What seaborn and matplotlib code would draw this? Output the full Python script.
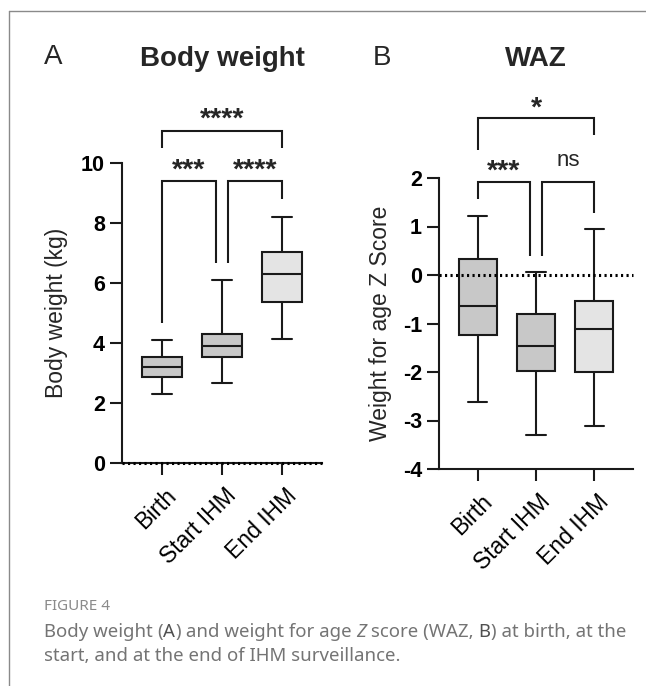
import matplotlib
matplotlib.use("Agg")
import matplotlib.pyplot as plt
import matplotlib.transforms as mtransforms
import seaborn as sns
import pandas as pd
from matplotlib.lines import Line2D

# ---------------- data ----------------
categories = ["Birth", "Start IHM", "End IHM"]

bw_min = [2.29, 2.68, 4.12]
bw_q1 = [2.88, 3.52, 5.38]
bw_med = [3.21, 3.91, 6.29]
bw_q3 = [3.54, 4.30, 7.03]
bw_max = [4.10, 6.10, 8.20]

waz_min = [-2.62, -3.30, -3.11]
waz_q1 = [-1.24, -1.98, -2.01]
waz_med = [-0.64, -1.46, -1.12]
waz_q3 = [0.32, -0.81, -0.53]
waz_max = [1.22, 0.06, 0.95]

bw_ticks = [0, 2, 4, 6, 8, 10]
waz_ticks = [-4, -3, -2, -1, 0, 1, 2]

box_colors = ["#c8c8c8", "#c8c8c8", "#e4e4e4"]

# significance brackets: (x_left, x_right, y_top, y_left_end, y_right_end, label, label_y)
brackets_bw = [
    (0.0, 2.0, 11.07, 10.5, 10.5, "****", 11.43),
    (0.0, 0.9, 9.4, 4.67, 6.67, "***", 9.76),
    (1.1, 2.0, 9.4, 6.67, 8.8, "****", 9.76),
]
brackets_waz = [
    (0.0, 2.0, 3.24, 2.58, 2.89, "*", 3.44),
    (0.0, 0.9, 1.92, 1.57, 0.39, "***", 2.14),
    (1.1, 2.0, 1.92, 0.39, 1.28, "ns", 2.36),
]


def five_number_frame(mins, q1s, meds, q3s, maxs):
    rows = []
    for c, a, b, m, d, e in zip(categories, mins, q1s, meds, q3s, maxs):
        for v in (a, b, m, d, e):
            rows.append({"group": c, "value": v})
    return pd.DataFrame(rows)


sns.set_theme(style="ticks")
plt.rcParams["font.family"] = ["Liberation Sans", "DejaVu Sans"]
plt.rcParams["axes.linewidth"] = 1.5

W, H = 646, 686
fig = plt.figure(figsize=(W / 100, H / 100), dpi=100)


def px_axes(x0, x1, y0, y1):
    return fig.add_axes([x0 / W, 1 - y1 / H, (x1 - x0) / W, (y1 - y0) / H])


axA = px_axes(122, 322, 163, 463)
axB = px_axes(439, 633, 178, 469)

palette = dict(zip(categories, box_colors))
shift = mtransforms.ScaledTranslation(3 / 100, 0, fig.dpi_scale_trans)


def draw_panel(ax, df, ticks, ylim, ylabel, title, title_y, brackets):
    sns.boxplot(data=df, x="group", y="value", order=categories, hue="group",
                hue_order=categories, palette=palette, whis=(0, 100), width=0.66,
                linewidth=1.5, linecolor="#1a1a1a", showfliers=False, legend=False,
                saturation=1, ax=ax)
    ax.set_xlim(-0.667, 2.667)
    ax.set_ylim(*ylim)
    ax.set_yticks(ticks)
    ax.set_yticklabels([str(t) for t in ticks], fontweight="bold", fontsize=15.5)
    ax.set_xlabel("")
    ax.set_ylabel(ylabel, fontsize=16.5)
    ax.yaxis.label.set_verticalalignment("center")
    ax.tick_params(axis="both", length=8.7, width=1.5, color="#1a1a1a", labelcolor="black")
    ax.tick_params(axis="y", pad=3.5)
    ax.tick_params(axis="x", pad=6.5)
    ax.set_xticks(range(len(categories)))
    ax.set_xticklabels(categories, rotation=45, ha="right", va="top",
                       rotation_mode="anchor", fontsize=16.5)
    for lab in ax.get_xticklabels():
        lab.set_transform(lab.get_transform() + shift)
    for s in ("top", "right"):
        ax.spines[s].set_visible(False)
    for s in ("left", "bottom"):
        ax.spines[s].set_color("#1a1a1a")
    ax.set_facecolor("none")
    ax.axhline(0, color="black", ls=(0, (0.7, 1.1)), lw=2.2, zorder=5, clip_on=False)
    ax.set_title(title, fontsize=20, fontweight="bold", y=title_y, va="center", pad=0)
    for xl, xr, yt, yl, yr, lab, ly in brackets:
        ax.plot([xl, xl, xr, xr], [yl, yt, yt, yr], color="#1a1a1a", lw=1.5,
                clip_on=False, solid_capstyle="butt", solid_joinstyle="miter")
        if lab == "ns":
            ax.text((xl + xr) / 2, ly, lab, ha="center", va="center", fontsize=16,
                    clip_on=False)
        else:
            ax.text((xl + xr) / 2, ly, lab, ha="center", va="center", fontsize=20.5,
                    fontweight="bold", clip_on=False)


dfA = five_number_frame(bw_min, bw_q1, bw_med, bw_q3, bw_max)
dfB = five_number_frame(waz_min, waz_q1, waz_med, waz_q3, waz_max)

draw_panel(axA, dfA, bw_ticks, (0, 10), "Body weight (kg)", "Body weight",
           (463 - 59.5) / 300, brackets_bw)
draw_panel(axB, dfB, waz_ticks, (-4, 2), "Weight for age Z Score", "WAZ",
           (469 - 59) / 291, brackets_waz)

axA.yaxis.set_label_coords((57 - 122) / 200, 0.5)
axB.yaxis.set_label_coords((380 - 439) / 194, 0.5)

# panel letters
fig.text(53 / W, 1 - 57 / H, "A", fontsize=20, ha="center", va="center")
fig.text(382 / W, 1 - 58 / H, "B", fontsize=20, ha="center", va="center")

# frame lines
fig.add_artist(Line2D([9 / W, 9 / W], [0, 1 - 11 / H], color="#8a8a8a", lw=1))
fig.add_artist(Line2D([9 / W, 1], [1 - 11 / H, 1 - 11 / H], color="#8a8a8a", lw=1))

# caption
cap_ax = fig.add_axes([0, 0, 1, 1])
cap_ax.axis("off")
cap_font = ["Noto Sans", "DejaVu Sans"]
grey = "#747474"
cap_size = 13.4
cap_ax.text(44 / W, 1 - 607 / H, "FIGURE 4", transform=fig.transFigure, fontsize=11,
            color="#8a8a8a", family=cap_font, fontweight="semibold", va="center")


def chain(pieces, x, y):
    s0, st0 = pieces[0]
    kw = {"fontsize": cap_size, "color": grey, "family": cap_font}
    kw.update(st0)
    prev = cap_ax.text(x, y, s0, transform=fig.transFigure, va="bottom", ha="left", **kw)
    for s, st in pieces[1:]:
        kw = {"fontsize": cap_size, "color": grey, "family": cap_font}
        kw.update(st)
        prev = cap_ax.annotate(s, xy=(1, 0), xycoords=prev, va="bottom", ha="left", **kw)


normal = {}
bold = {"fontweight": "bold", "color": "#505050"}
ital = {"fontstyle": "italic"}
line1 = [("Body weight ", normal), ("(", normal), ("A", bold), (")", normal),
         (" and weight for age ", normal), ("Z", ital), (" score (WAZ, ", normal),
         ("B", bold), (") at birth, at the", normal)]
line2 = [("start, and at the end of IHM surveillance.", normal)]
chain(line1, 44 / W, 1 - 641 / H)
chain(line2, 44 / W, 1 - 665 / H)

fig.savefig("out.png", dpi=100)
